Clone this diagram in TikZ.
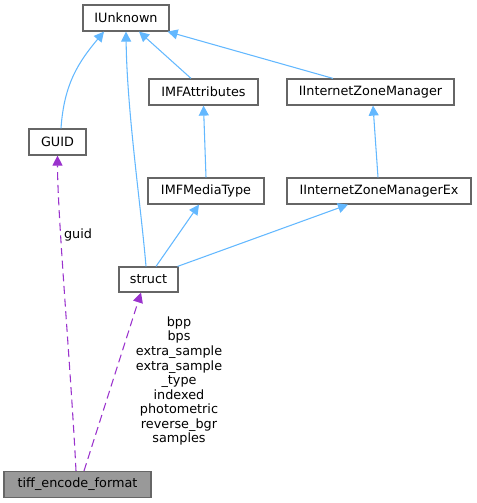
\documentclass[tikz,border=0pt]{standalone}
\usepackage{fontspec}
\setmainfont{DejaVu Sans}
\usepackage{xcolor}
\usetikzlibrary{shapes,arrows.meta,positioning,calc}

\definecolor{inhblue}{HTML}{63B8FF}
\definecolor{usepurple}{HTML}{9A32CD}
\definecolor{boxgray}{HTML}{666666}

\begin{document}
\begin{tikzpicture}[
            x=0.75pt, y=-0.75pt,
            every node/.style={font=\fontsize{9.6}{10.9}\selectfont},
            cls/.style={draw=boxgray, line width=0.9pt, minimum height=19.5pt, inner sep=0pt},
            w/.style={minimum width=#1*0.75pt},
            inh/.style={draw=inhblue, line width=0.8pt, -{Triangle[width=7.5pt,length=7.5pt]}},
            mbr/.style={draw=usepurple, line width=0.8pt, dash pattern=on 6pt off 3.5pt, -{Triangle[width=7.5pt,length=7.5pt]}},
        ]
            \useasboundingbox (0,0) rectangle (476,503);

            % classes
            \node[cls, w=86] (iunknown) at (126,18) {IUnknown};
            \node[cls, w=109] (imfattr) at (203.5,92) {IMFAttributes};
            \node[cls, w=167] (izm) at (370.5,92) {IInternetZoneManager};
            \node[cls, w=57] (guid) at (57.5,142) {GUID};
            \node[cls, w=116] (mediatype) at (206,191) {IMFMediaType};
            \node[cls, w=184] (izmex) at (379,191) {IInternetZoneManagerEx};
            \node[cls, w=59, minimum height=18.75pt] (struct) at (148.5,279.5) {struct};
            \node[cls, w=147, fill=black!40] (tiff) at (77.5,484.5) {tiff\_encode\_format};

            % inheritance
            \draw[inh] ($(guid.north)+(3.5,0)$) .. controls +(3,-45) and +(-25,30) .. ($(iunknown.south)+(-22,0)$);
            \draw[inh] ($(struct.north)+(-2.5,0)$) .. controls +(-5,-60) and +(1,80) .. (iunknown.south);
            \draw[inh] ($(imfattr.north)+(-12.5,0)$) -- ($(iunknown.south)+(13,0)$);
            \draw[inh] ($(izm.north)+(-37.5,0)$) -- ($(iunknown.south east)+(-2,0)$);
            \draw[inh] (mediatype.north) -- (imfattr.south);
            \draw[inh] ($(izmex.north)+(-1,0)$) -- ($(izm.south)+(2.5,0)$);
            \draw[inh] ($(struct.north)+(7.5,0)$) -- ($(mediatype.south)+(-7,0)$);
            \draw[inh] ($(struct.north east)+(-1,0)$) -- ($(izmex.south)+(-31,0)$);

            % members
            \draw[mbr] ($(tiff.north)+(-1.5,0)$) .. controls +(-5,-100) and +(0,60) .. (guid.south);
            \node (guidlbl) at (78,235) {guid};
            \draw[mbr] ($(tiff.north)+(6.5,0)$) -- ($(struct.south)+(-7.5,0)$);
            \node[align=center] (structlbl) at (179,381) {bpp\\bps\\extra\_sample\\extra\_sample\\\_type\\indexed\\photometric\\reverse\_bgr\\samples};
        \end{tikzpicture}
\end{document}
